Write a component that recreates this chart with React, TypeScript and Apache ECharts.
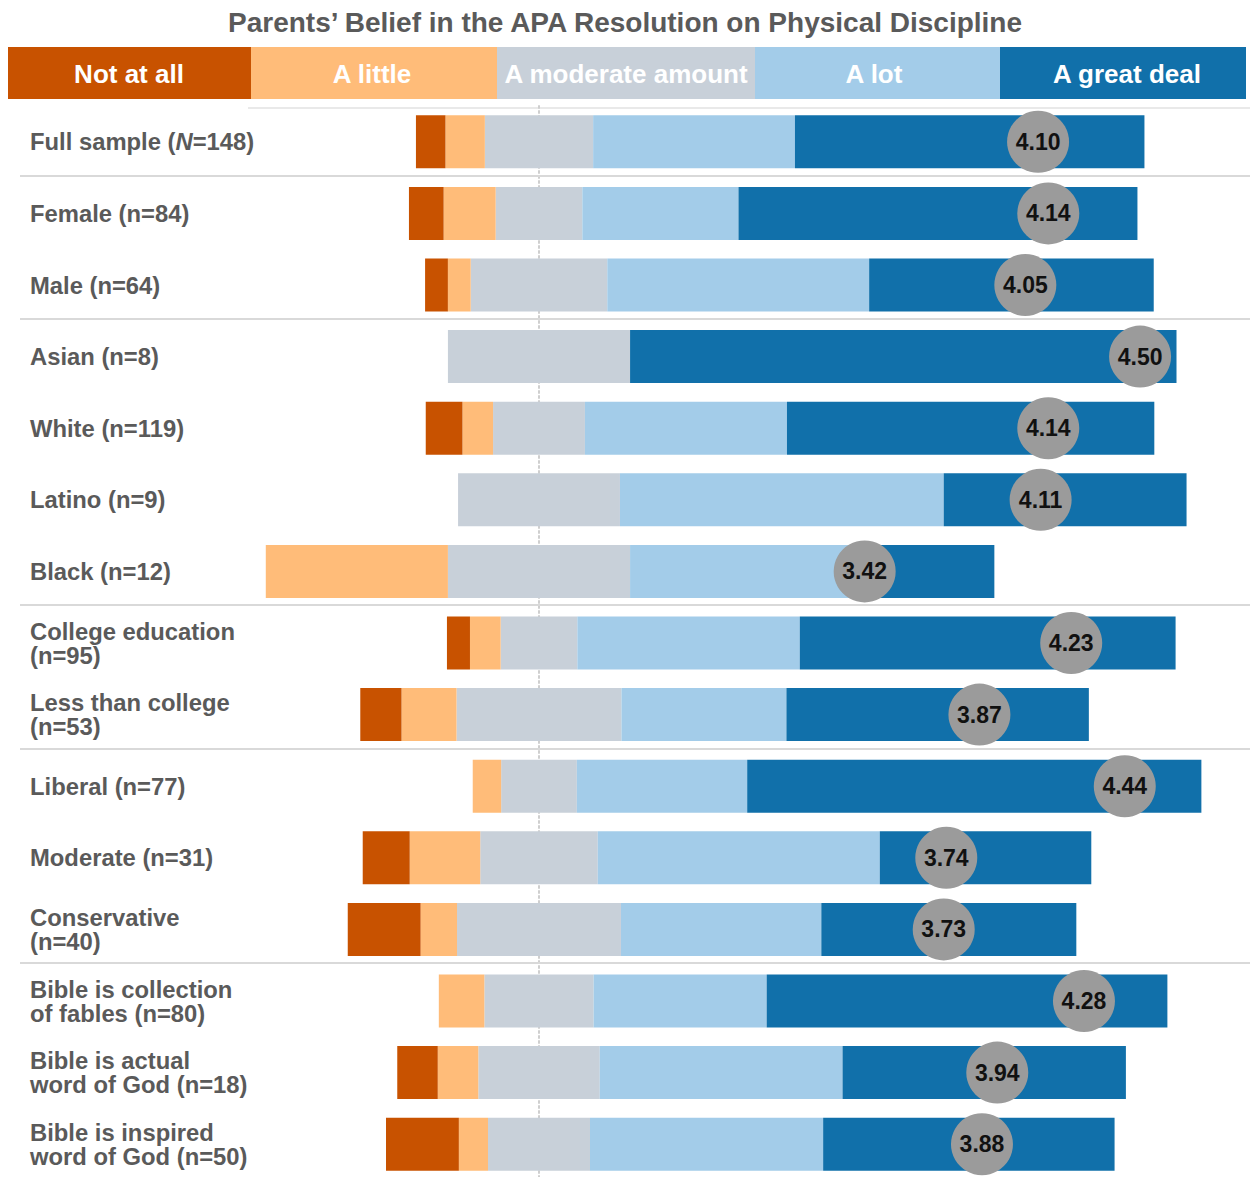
import { useEffect, useRef } from "react";
import * as echarts from "echarts";

// Groups of parents, top to bottom
const categories = [
  "Full sample (N=148)",
  "Female (n=84)",
  "Male (n=64)",
  "Asian (n=8)",
  "White (n=119)",
  "Latino (n=9)",
  "Black (n=12)",
  "College education\n(n=95)",
  "Less than college\n(n=53)",
  "Liberal (n=77)",
  "Moderate (n=31)",
  "Conservative\n(n=40)",
  "Bible is collection\nof fables (n=80)",
  "Bible is actual\nword of God (n=18)",
  "Bible is inspired\nword of God (n=50)",
];

// Share of each group (%) giving each answer
const notAtAll = [4.05, 4.76, 3.13, 0, 5.04, 0, 0, 3.16, 5.66, 0, 6.45, 10, 0, 5.56, 10];
const aLittle = [5.41, 7.14, 3.13, 0, 4.2, 0, 25, 4.21, 7.55, 3.9, 9.68, 5, 6.25, 5.56, 4];
const moderateAmount = [14.86, 11.9, 18.75, 25, 12.61, 22.22, 25, 10.53, 22.64, 10.39, 16.13, 22.5, 15, 16.67, 14];
const aLot = [27.7, 21.43, 35.94, 0, 27.73, 44.44, 33.33, 30.53, 22.64, 23.38, 38.71, 27.5, 23.75, 33.33, 32];
const greatDeal = [47.97, 54.76, 39.06, 75, 50.42, 33.33, 16.67, 51.58, 41.51, 62.34, 29.03, 35, 55, 38.89, 40];

// Mean rating on the 1 (Not at all) to 5 (A great deal) scale
const means = [4.1, 4.14, 4.05, 4.5, 4.14, 4.11, 3.42, 4.23, 3.87, 4.44, 3.74, 3.73, 4.28, 3.94, 3.88];

const levels = ["Not at all", "A little", "A moderate amount", "A lot", "A great deal"];
const levelColors = ["#c85200", "#ffbc79", "#c8d0d9", "#a3cce9", "#1170aa"];

// Rows after which a group divider is drawn (band boundaries)
const dividers = [0.5, 2.5, 6.5, 8.5, 11.5];

const TITLE = "Parents\u2019 Belief in the APA Resolution on Physical Discipline";

// Layout
const FONT = "'Liberation Sans', Arial, Helvetica, sans-serif";
const LABEL_COLOR = "#5a5a5a";
const GRID_LEFT = 247.5714;
const GRID_WIDTH = 1020;
const GRID_TOP = 106;
const GRID_HEIGHT = 1074;
const PCT_MIN = -40;
const PCT_MAX = 100;
const LABEL_X = 30;
const HEADER_EDGES = [8, 251, 497, 755, 1000, 1246];
const HEADER_TEXT_X = [129, 372, 626, 874, 1127];
const HEADER_TOP = 47;
const HEADER_HEIGHT = 52;

export default function App() {
  const ref = useRef<HTMLDivElement>(null);

  useEffect(() => {
    if (!ref.current) return;
    const chart = echarts.init(ref.current, undefined, { renderer: "svg" });

    const bar = (name: string, data: number[], color: string) => ({
      type: "bar",
      name,
      stack: "answers",
      xAxisIndex: 0,
      yAxisIndex: 0,
      barWidth: 53,
      silent: true,
      itemStyle: { color },
      data,
    });

    const option: any = {
      animation: false,
      backgroundColor: "#ffffff",
      textStyle: { fontFamily: FONT },
      title: {
        text: TITLE,
        left: "center",
        top: 3,
        textStyle: { fontFamily: FONT, fontSize: 28, fontWeight: "bold", color: LABEL_COLOR },
      },
      grid: [
        {
          left: GRID_LEFT,
          top: GRID_TOP,
          width: GRID_WIDTH,
          height: GRID_HEIGHT,
          containLabel: false,
          outerBoundsMode: "none",
        },
        {
          left: 20,
          top: GRID_TOP - 2,
          width: 1230,
          height: GRID_HEIGHT,
          containLabel: false,
          outerBoundsMode: "none",
        },
      ],
      xAxis: [
        { type: "value", gridIndex: 0, min: PCT_MIN, max: PCT_MAX, show: false },
        { type: "value", gridIndex: 0, min: 1, max: 5, show: false },
        { type: "value", gridIndex: 1, min: 0, max: 1, show: false },
      ],
      yAxis: [
        {
          type: "category",
          gridIndex: 0,
          data: categories,
          inverse: true,
          axisTick: { show: false },
          splitLine: { show: false },
          // dotted centre line sits on the 0 % position of the share axis
          axisLine: {
            show: true,
            onZero: true,
            onZeroAxisIndex: 0,
            lineStyle: { color: "#cfcfcf", width: 2, type: [2, 3] },
          },
          axisLabel: {
            align: "left",
            margin: GRID_LEFT - LABEL_X,
            fontFamily: FONT,
            fontSize: 23.8,
            fontWeight: "bold",
            color: LABEL_COLOR,
            lineHeight: 24,
            formatter: (v: string) => v.replace("(N=", "({it|N}="),
            rich: {
              it: {
                fontFamily: FONT,
                fontSize: 23.8,
                fontWeight: "bold",
                fontStyle: "italic",
                color: LABEL_COLOR,
              },
            },
          },
        },
        { type: "value", gridIndex: 1, min: -0.5, max: 14.5, inverse: true, show: false },
      ],
      graphic: [
        ...levels.map((_, i) => ({
          type: "rect",
          silent: true,
          shape: {
            x: HEADER_EDGES[i],
            y: HEADER_TOP,
            width: HEADER_EDGES[i + 1] - HEADER_EDGES[i],
            height: HEADER_HEIGHT,
          },
          style: { fill: levelColors[i] },
        })),
        ...levels.map((name, i) => ({
          type: "text",
          silent: true,
          x: HEADER_TEXT_X[i],
          y: HEADER_TOP + HEADER_HEIGHT / 2 + 1,
          style: {
            text: name,
            fill: "#ffffff",
            font: `bold 26px ${FONT}`,
            align: "center",
            verticalAlign: "middle",
            textAlign: "center",
            textVerticalAlign: "middle",
          },
        })),
        {
          type: "line",
          silent: true,
          shape: { x1: 248, y1: 108, x2: 1250, y2: 108 },
          style: { stroke: "#e2e2e2", lineWidth: 1.5 },
        },
      ],
      series: [
        // left side of the diverging bar grows outward from the centre
        bar("A moderate amount", moderateAmount.map((v) => -v / 2), levelColors[2]),
        bar("A little", aLittle.map((v) => -v), levelColors[1]),
        bar("Not at all", notAtAll.map((v) => -v), levelColors[0]),
        // right side
        bar("A moderate amount ", moderateAmount.map((v) => v / 2), levelColors[2]),
        bar("A lot", aLot, levelColors[3]),
        bar("A great deal", greatDeal, levelColors[4]),
        {
          type: "scatter",
          name: "Mean",
          xAxisIndex: 1,
          yAxisIndex: 0,
          z: 5,
          silent: true,
          symbol: "circle",
          symbolSize: 62,
          itemStyle: { color: "#9b9b9b", opacity: 1 },
          label: {
            show: true,
            position: "inside",
            fontFamily: FONT,
            fontSize: 23,
            fontWeight: "bold",
            color: "#111111",
            formatter: (p: any) => Number(p.value[0]).toFixed(2),
          },
          data: means.map((m, i) => [m, i]),
        },
        {
          type: "line",
          name: "dividers",
          xAxisIndex: 2,
          yAxisIndex: 1,
          data: [],
          silent: true,
          markLine: {
            silent: true,
            symbol: ["none", "none"],
            label: { show: false },
            lineStyle: { type: "solid", color: "#d9d9d9", width: 2 },
            emphasis: { disabled: true },
            data: dividers.map((y) => ({ yAxis: y })),
          },
        },
      ],
    };

    chart.setOption(option);
    return () => chart.dispose();
  }, []);

  return (
    <div
      ref={ref}
      style={{ position: "absolute", left: 0, top: 0, width: 1250, height: 1177, background: "#fff" }}
    />
  );
}
